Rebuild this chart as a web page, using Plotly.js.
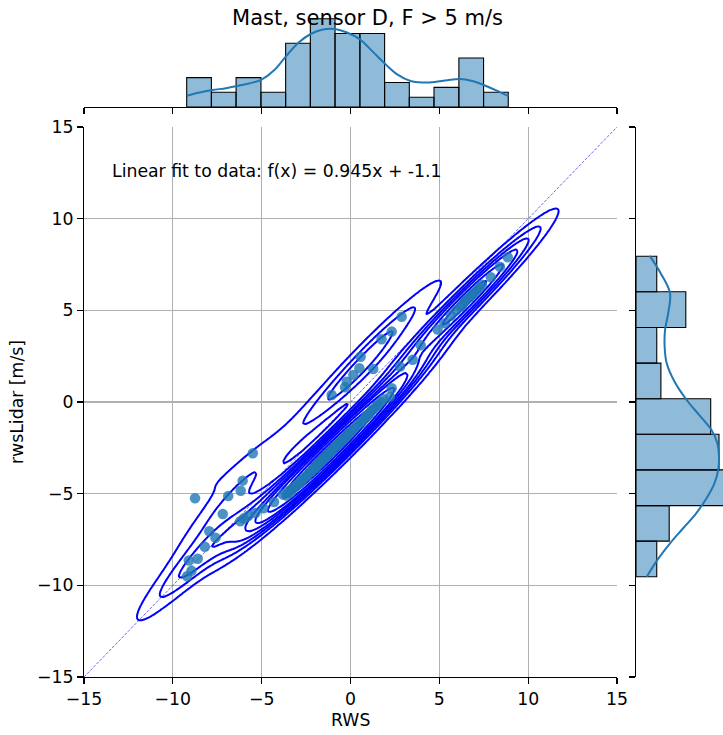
<!DOCTYPE html>
<html><head><meta charset="utf-8">
<script src="https://cdn.plot.ly/plotly-3.0.1.min.js"></script>
<style>html,body{margin:0;padding:0;background:#fff}#chart{width:723px;height:735px}</style>
</head><body><div id="chart"></div>
<script>
// ---- data ----
const rwsX = [
 -9.2,-9.1,-8.95,-8.75,-8.6,-8.2,-7.95,-7.6,-7.19,-6.88,
 -6.18,-6.07,-6.2,-6.0,-5.75,-5.5,-5.35,-4.9,-4.3,-3.8,
 -3.6,-3.5,-3.4,-3.3,-3.2,-3.1,-3.0,-2.9,-2.8,-2.7,-2.6,-2.45,-2.3,
 -2.2,-2.1,-2.0,-1.95,-1.85,-1.8,-1.7,-1.65,-1.55,-1.5,-1.4,-1.35,-1.25,-1.2,-1.1,-1.06,-1.0,-0.9,
 -0.8,-0.7,-0.6,-0.5,-0.4,-0.31,-0.3,-0.21,-0.2,-0.1,0.05,0.16,0.2,0.4,0.5,
 0.57,0.6,0.7,0.8,0.9,1.0,1.1,1.2,1.28,1.3,1.45,1.55,1.7,1.75,1.85,
 2.22,2.32,2.32,2.79,2.88,
 3.5,3.95,
 4.9,5.3,5.65,5.95,
 6.2,6.3,6.45,6.55,6.7,6.85,6.95,7.1,7.25,7.4,
 7.9,8.41,8.85
];
const rwsLidar = [
 -9.5,-8.65,-9.2,-5.25,-8.55,-7.9,-7.05,-7.4,-6.11,-5.13,
 -4.84,-4.29,-6.5,-6.35,-6.2,-2.8,-6.05,-5.8,-5.45,-5.05,
 -5.1,-4.85,-4.95,-4.75,-4.7,-4.6,-4.5,-4.45,-4.3,-4.25,-4.1,-4.05,-3.85,
 -3.8,-3.65,-3.55,-3.6,-3.45,-3.35,-3.3,-3.2,-3.15,-3.05,-3.0,-2.9,-2.85,-2.75,-2.7,0.38,-2.6,-2.45,
 -2.4,-2.3,-2.2,-2.1,-2.05,0.8,-1.95,1.1,-1.85,-1.7,-1.6,1.47,-1.45,-1.25,1.84,
 2.47,-1.1,-1.0,-0.9,-0.75,-0.7,-0.6,-0.45,1.8,-0.4,-0.25,-0.15,0.0,3.42,0.15,
 0.29,0.75,3.84,1.93,4.65,
 2.3,3.1,
 3.95,4.3,4.7,5.0,
 5.2,5.3,5.5,5.6,5.7,5.85,5.95,6.1,6.25,6.4,
 6.8,7.38,7.9
];
const histXEdges  = [-9.22,-7.83,-6.44,-5.04,-3.65,-2.26,-0.87,0.53,1.92,3.31,4.70,6.10,7.49,8.88];
const histXCounts = [6,3,6,3,13,18,15,15,5,2,4,10,3];
const histYEdges  = [-9.53,-7.59,-5.65,-3.70,-1.76,0.18,2.12,4.06,6.01,7.95];
const histYCounts = [5,8,22,20,18,6,5,12,5];
const kdeXGrid    = [-9.22,-8.5,-7.76,-7.0,-6.35,-5.7,-5.01,-4.3,-3.6,-2.9,-2.24,-1.55,-0.88,-0.2,0.53,1.25,1.95,2.65,3.38,4.05,4.74,5.45,6.15,6.85,7.49,8.2,8.9];
const kdeXValues  = [2.3,2.95,3.45,3.85,4.3,4.8,5.6,7.5,10.5,13.2,14.9,15.8,15.9,15.2,13.8,11.3,8.8,6.6,5.3,5.0,5.1,5.45,5.7,5.3,4.5,3.4,2.2];
const kdeYGrid    = [7.97,7.0,5.93,4.9,3.93,3.0,2.11,1.1,0.11,-0.7,-1.53,-2.25,-2.98,-3.7,-4.44,-5.25,-6.07,-6.9,-7.71,-8.6,-9.53];
const kdeYValues  = [3.3,6.0,8.2,7.8,7.0,6.9,7.4,9.3,12.2,15.2,18.2,19.6,20.0,19.8,18.9,17.0,14.5,11.3,8.2,5.2,2.6];
const tickVals  = [-15,-10,-5,0,5,10,15];
const tickText  = ['\u221215','\u221210','\u22125','0','5','10','15'];
const titleText = 'Mast, sensor D, F > 5 m/s';
const fitText   = 'Linear fit to data: f(x) = 0.945x + -1.1';
const xLabel = 'RWS', yLabel = 'rwsLidar [m/s]';
const diagX = [-15, 15], diagY = [-15, 15];

// ---- helpers ----
function centers(e){const c=[];for(let i=0;i<e.length-1;i++)c.push((e[i]+e[i+1])/2);return c;}
function widths(e){const w=[];for(let i=0;i<e.length-1;i++)w.push(e[i+1]-e[i]);return w;}

function kde2d(px, py, nLevels, thresh){
  const n=px.length;
  let mx=0,my=0; for(let k=0;k<n;k++){mx+=px[k];my+=py[k];} mx/=n; my/=n;
  let sxx=0,syy=0,sxy=0;
  for(let k=0;k<n;k++){const dx=px[k]-mx,dy=py[k]-my;sxx+=dx*dx;syy+=dy*dy;sxy+=dx*dy;}
  sxx/=(n-1);syy/=(n-1);sxy/=(n-1);
  const f2=Math.pow(n,-1/3);
  const a=sxx*f2,d=syy*f2,b=sxy*f2,det=a*d-b*b;
  const ia=d/det,ib=-b/det,id=a/det;
  const norm=1/(2*Math.PI*Math.sqrt(det)*n);
  const bwx=Math.sqrt(a),bwy=Math.sqrt(d);
  const G=200;
  const x0=Math.min(...px)-3*bwx,x1=Math.max(...px)+3*bwx;
  const y0=Math.min(...py)-3*bwy,y1=Math.max(...py)+3*bwy;
  const gx=[],gy=[];
  for(let i=0;i<G;i++){gx.push(x0+(x1-x0)*i/(G-1));gy.push(y0+(y1-y0)*i/(G-1));}
  const z=[],flat=[];
  for(let j=0;j<G;j++){const row=[];for(let i=0;i<G;i++){let s=0;
    for(let k=0;k<n;k++){const dx=gx[i]-px[k],dy=gy[j]-py[k];s+=Math.exp(-0.5*(dx*dx*ia+2*dx*dy*ib+dy*dy*id));}
    row.push(s*norm);flat.push(s*norm);}z.push(row);}
  flat.sort((p,q)=>q-p);
  const tot=flat.reduce((s,v)=>s+v,0);
  const cs=[];let acc=0;for(const v of flat){acc+=v;cs.push(acc/tot);}
  const levels=[];
  for(let l=0;l<nLevels;l++){
    const q=thresh+(1-thresh)*l/(nLevels-1);
    if(q>=1) continue;
    const t=1-q; let idx=0; while(idx<cs.length&&cs[idx]<t)idx++;
    levels.push(flat[Math.min(idx,flat.length-1)]);
  }
  return {gx,gy,z,levels};
}

const dens=kde2d(rwsX,rwsLidar,10,0.05);
const FONT='DejaVu Sans, Verdana, sans-serif';
const FS=17.3;
const traces=[];
traces.push({type:'scatter',mode:'lines',x:diagX,y:diagY,xaxis:'x',yaxis:'y',
  line:{color:'rgba(0,0,255,0.75)',width:0.8,dash:'3px,1.5px'},hoverinfo:'skip'});
traces.push({type:'scatter',mode:'markers',x:rwsX,y:rwsLidar,xaxis:'x',yaxis:'y',
  marker:{color:'#1f77b4',size:10.5,opacity:0.8,line:{width:0}},hoverinfo:'skip'});
for(const L of dens.levels){
  traces.push({type:'contour',x:dens.gx,y:dens.gy,z:dens.z,xaxis:'x',yaxis:'y',
    autocontour:false,contours:{start:L,end:L,size:L,coloring:'none'},
    line:{color:'#0000ff',width:2,smoothing:0.6},showscale:false,hoverinfo:'skip'});
}
traces.push({type:'bar',x:centers(histXEdges),y:histXCounts,width:widths(histXEdges),xaxis:'x2',yaxis:'y2',
  marker:{color:'rgba(31,119,180,0.5)',line:{color:'#000',width:1.1}},hoverinfo:'skip'});
traces.push({type:'scatter',mode:'lines',x:kdeXGrid,y:kdeXValues,xaxis:'x2',yaxis:'y2',
  line:{color:'#1f77b4',width:2,shape:'spline'},hoverinfo:'skip'});
traces.push({type:'bar',orientation:'h',y:centers(histYEdges),x:histYCounts,width:widths(histYEdges),xaxis:'x3',yaxis:'y3',
  marker:{color:'rgba(31,119,180,0.5)',line:{color:'#000',width:1.1}},hoverinfo:'skip'});
traces.push({type:'scatter',mode:'lines',y:kdeYGrid,x:kdeYValues,xaxis:'x3',yaxis:'y3',
  line:{color:'#1f77b4',width:2,shape:'spline'},hoverinfo:'skip'});

const W=723,H=735;
const mainX=[84/W,617/W], mainY=[1-677/H,1-127/H];
const axCommon={showgrid:true,gridcolor:'#b0b0b0',gridwidth:1.1,zeroline:false,showline:true,linecolor:'#000',linewidth:1.1,
  ticks:'outside',ticklen:6,tickwidth:1.1,tickcolor:'#000',tickmode:'array',tickvals:tickVals,ticktext:tickText,
  range:[-15,15],fixedrange:true,tickfont:{family:FONT,size:FS,color:'#000'}};
const layout={
  width:W,height:H,margin:{l:0,r:0,t:0,b:0},showlegend:false,
  paper_bgcolor:'#fff',plot_bgcolor:'#fff',bargap:0,
  font:{family:FONT,size:FS,color:'#000'},
  title:{text:titleText,x:367.5/W,xanchor:'center',xref:'paper',y:1-18/H,yanchor:'middle',font:{family:FONT,size:21,color:'#000'}},
  xaxis:Object.assign({},axCommon,{domain:mainX,anchor:'y'}),
  yaxis:Object.assign({},axCommon,{domain:mainY,anchor:'x'}),
  xaxis2:Object.assign({},axCommon,{domain:mainX,anchor:'y2',showgrid:false,showticklabels:false}),
  yaxis2:{domain:[1-107/H,1-14.4/H],range:[0,18.9],anchor:'x2',visible:false,fixedrange:true},
  xaxis3:{domain:[636/W,1],range:[0,87/4.15],anchor:'y3',visible:false,fixedrange:true},
  yaxis3:Object.assign({},axCommon,{domain:mainY,anchor:'x3',showgrid:false,showticklabels:false}),
  annotations:[
    {text:fitText,x:-13.55,y:12.6,xref:'x',yref:'y',xanchor:'left',yanchor:'middle',showarrow:false,font:{family:FONT,size:FS,color:'#000'}},
    {text:xLabel,x:350.5/W,y:1-720/H,xref:'paper',yref:'paper',xanchor:'center',yanchor:'middle',showarrow:false,font:{family:FONT,size:FS,color:'#000'}},
    {text:yLabel,x:17/W,y:1-402/H,xref:'paper',yref:'paper',xanchor:'center',yanchor:'middle',textangle:-90,showarrow:false,font:{family:FONT,size:FS,color:'#000'}}
  ]
};
Plotly.newPlot('chart',traces,layout,{staticPlot:true,displayModeBar:false});
</script></body></html>
